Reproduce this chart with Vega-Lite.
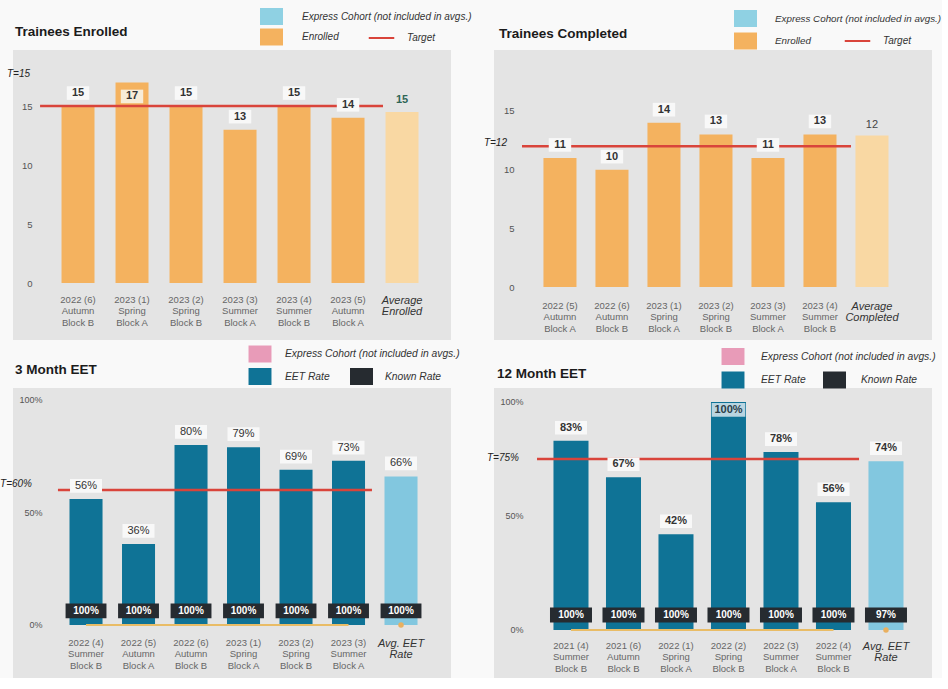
{
  "$schema": "https://vega.github.io/schema/vega-lite/v6.json",
  "padding": {"left": 0, "top": 8, "right": 0, "bottom": 0},
  "background": "#f9f9f9",
  "bounds": "flush",
  "columns": 2,
  "spacing": {"row": 48, "column": 43},
  "resolve": {
    "scale": {"color": "independent", "fill": "independent", "stroke": "independent", "x": "independent", "y": "independent"},
    "legend": {"color": "independent", "fill": "independent", "stroke": "independent"}
  },
  "config": {
    "font": "Liberation Sans",
    "view": {"stroke": null, "fill": "#e4e4e4"},
    "axis": {"domain": false, "ticks": false, "grid": false, "labelFont": "Liberation Sans"},
    "legend": {"labelFont": "Liberation Sans", "labelFontStyle": "italic", "labelFontSize": 10, "labelColor": "#333333", "padding": 0, "labelLimit": 400, "symbolOpacity": 1},
    "title": {"font": "Liberation Sans"}
  },
  "concat": [
    {
      "width": 438, "height": 290,
      "title": {"text": "Trainees Enrolled", "anchor": "start", "frame": "group", "baseline": "middle", "offset": -37, "dx": 2, "fontSize": 13.5, "fontWeight": "bold", "color": "#1b1b1b"},
      "data": {"values": [
        {"cohort": "2022 (6)|Autumn|Block B", "series": "Enrolled", "value": 15, "label": "15", "type": "cohort"},
        {"cohort": "2023 (1)|Spring|Block A", "series": "Enrolled", "value": 17, "label": "17", "type": "cohort"},
        {"cohort": "2023 (2)|Spring|Block B", "series": "Enrolled", "value": 15, "label": "15", "type": "cohort"},
        {"cohort": "2023 (3)|Summer|Block A", "series": "Enrolled", "value": 13, "label": "13", "type": "cohort"},
        {"cohort": "2023 (4)|Summer|Block B", "series": "Enrolled", "value": 15, "label": "15", "type": "cohort"},
        {"cohort": "2023 (5)|Autumn|Block A", "series": "Enrolled", "value": 14, "label": "14", "type": "cohort"},
        {"cohort": "Average|Enrolled", "series": "Average", "value": 14.5, "label": "15", "type": "avg"}
      ]},
      "layer": [
        {
          "transform": [{"filter": "datum.type == 'cohort'"}],
          "mark": {"type": "bar"},
          "encoding": {
            "x": {"field": "cohort", "type": "nominal", "scale": {"paddingInner": 0.389, "paddingOuter": 0.75, "align": 0.599},
              "axis": {"title": null, "offset": -57, "labelPadding": 11, "labelAngle": 0, "labelExpr": "split(datum.value, '|')", "labelLineHeight": 11.5,
                "labelFontSize": {"condition": {"test": "indexof(datum.value, 'Av') == 0", "value": 11}, "value": 9.5},
                "labelFontStyle": {"condition": {"test": "indexof(datum.value, 'Av') == 0", "value": "italic"}, "value": "normal"},
                "labelColor": {"condition": {"test": "indexof(datum.value, 'Av') == 0", "value": "#333333"}, "value": "#666666"}}},
            "y": {"field": "value", "type": "quantitative", "scale": {"domain": [-4.83, 19.75], "nice": false, "zero": false},
              "axis": {"title": null, "values": [0, 5, 10, 15], "offset": -19, "labelPadding": 0, "labelFontSize": 9.5, "labelColor": "#555555"}},
            "y2": {"datum": 0},
            "color": {"field": "series", "type": "nominal",
              "scale": {"domain": ["Express Cohort (not included in avgs.)", "Enrolled"], "range": ["#8fd1e3", "#f4b25f"]},
              "legend": {"orient": "none", "legendX": 250, "legendY": -42, "title": null, "symbolType": "M-1.35,-1H1.35V1H-1.35Z", "symbolSize": 289, "symbolStrokeWidth": 0, "rowPadding": 3.5, "labelOffset": 22}}
          }
        },
        {
          "transform": [{"filter": "datum.type == 'avg'"}],
          "mark": {"type": "bar", "color": "#f9d8a3"},
          "encoding": {"x": {"field": "cohort", "type": "nominal"}, "y": {"field": "value", "type": "quantitative"}, "y2": {"datum": 0}}
        },
        {
          "data": {"values": [{"from": "2022 (6)|Autumn|Block B", "to": "2023 (5)|Autumn|Block A", "target": 15}]},
          "mark": {"type": "rule", "strokeWidth": 2.5},
          "encoding": {
            "x": {"field": "from", "type": "nominal", "bandPosition": -0.65},
            "x2": {"field": "to", "bandPosition": 1.56},
            "y": {"field": "target", "type": "quantitative"},
            "stroke": {"datum": "Target", "type": "nominal", "scale": {"domain": ["Target"], "range": ["#d9443b"]},
              "legend": {"orient": "none", "legendX": 359, "legendY": -21.5, "title": null, "symbolType": "M-1.5,0H1.5", "symbolSize": 289, "symbolStrokeWidth": 2, "labelOffset": 16}}
          }
        },
        {
          "transform": [{"filter": "datum.type == 'cohort' && datum.value < 16"}],
          "mark": {"type": "point", "shape": "M-1.4,-0.85H1.4V0.85H-1.4Z", "size": 256, "filled": true, "color": "#f8f8f8", "opacity": 1, "yOffset": -13},
          "encoding": {"x": {"field": "cohort", "type": "nominal"}, "y": {"field": "value", "type": "quantitative"}}
        },
        {
          "transform": [{"filter": "datum.type == 'cohort' && datum.value < 16"}],
          "mark": {"type": "text", "dy": -13, "fontSize": 11, "fontWeight": "bold", "color": "#333333"},
          "encoding": {"x": {"field": "cohort", "type": "nominal"}, "y": {"field": "value", "type": "quantitative"}, "text": {"field": "label"}}
        },
        {
          "transform": [{"filter": "datum.type == 'cohort' && datum.value >= 16"}],
          "mark": {"type": "point", "shape": "M-1.4,-0.85H1.4V0.85H-1.4Z", "size": 256, "filled": true, "color": "#f7ecd8", "opacity": 1, "yOffset": 14},
          "encoding": {"x": {"field": "cohort", "type": "nominal"}, "y": {"field": "value", "type": "quantitative"}}
        },
        {
          "transform": [{"filter": "datum.type == 'cohort' && datum.value >= 16"}],
          "mark": {"type": "text", "dy": 14, "fontSize": 11, "fontWeight": "bold", "color": "#333333"},
          "encoding": {"x": {"field": "cohort", "type": "nominal"}, "y": {"field": "value", "type": "quantitative"}, "text": {"field": "label"}}
        },
        {
          "transform": [{"filter": "datum.type == 'avg'"}],
          "mark": {"type": "text", "dy": -12, "fontSize": 11, "fontWeight": "bold", "color": "#2f6656"},
          "encoding": {"x": {"field": "cohort", "type": "nominal"}, "y": {"field": "value", "type": "quantitative"}, "text": {"field": "label"}}
        },
        {
          "data": {"values": [{"from": "2022 (6)|Autumn|Block B", "target": 15}]},
          "mark": {"type": "text", "align": "right", "dx": -31.5, "dy": -32, "fontSize": 10, "fontStyle": "italic", "color": "#222222"},
          "encoding": {"x": {"field": "from", "type": "nominal", "bandPosition": 0}, "y": {"field": "target", "type": "quantitative"}, "text": {"value": "T=15"}}
        }
      ]
    },
    {
      "width": 438, "height": 290,
      "title": {"text": "Trainees Completed", "anchor": "start", "frame": "group", "baseline": "middle", "offset": -37, "dx": 5, "fontSize": 13.5, "fontWeight": "bold", "color": "#1b1b1b"},
      "data": {"values": [
        {"cohort": "2022 (5)|Autumn|Block A", "series": "Enrolled", "value": 11, "label": "11", "type": "cohort"},
        {"cohort": "2022 (6)|Autumn|Block B", "series": "Enrolled", "value": 10, "label": "10", "type": "cohort"},
        {"cohort": "2023 (1)|Spring|Block A", "series": "Enrolled", "value": 14, "label": "14", "type": "cohort"},
        {"cohort": "2023 (2)|Spring|Block B", "series": "Enrolled", "value": 13, "label": "13", "type": "cohort"},
        {"cohort": "2023 (3)|Summer|Block A", "series": "Enrolled", "value": 11, "label": "11", "type": "cohort"},
        {"cohort": "2023 (4)|Summer|Block B", "series": "Enrolled", "value": 13, "label": "13", "type": "cohort"},
        {"cohort": "Average|Completed", "series": "Average", "value": 12.9, "label": "12", "type": "avg"}
      ]},
      "layer": [
        {
          "transform": [{"filter": "datum.type == 'cohort'"}],
          "mark": {"type": "bar"},
          "encoding": {
            "x": {"field": "cohort", "type": "nominal", "scale": {"paddingInner": 0.365, "paddingOuter": 0.894, "align": 0.532},
              "axis": {"title": null, "offset": -53, "labelPadding": 13, "labelAngle": 0, "labelExpr": "split(datum.value, '|')", "labelLineHeight": 11.5,
                "labelFontSize": {"condition": {"test": "indexof(datum.value, 'Av') == 0", "value": 11}, "value": 9.5},
                "labelFontStyle": {"condition": {"test": "indexof(datum.value, 'Av') == 0", "value": "italic"}, "value": "normal"},
                "labelColor": {"condition": {"test": "indexof(datum.value, 'Av') == 0", "value": "#333333"}, "value": "#666666"}}},
            "y": {"field": "value", "type": "quantitative", "scale": {"domain": [-4.51, 20.19], "nice": false, "zero": false},
              "axis": {"title": null, "values": [0, 5, 10, 15], "offset": -20, "labelPadding": 0, "labelFontSize": 9.5, "labelColor": "#555555"}},
            "y2": {"datum": 0},
            "color": {"field": "series", "type": "nominal",
              "scale": {"domain": ["Express Cohort (not included in avgs.)", "Enrolled"], "range": ["#8fd1e3", "#f4b25f"]},
              "legend": {"orient": "none", "legendX": 243, "legendY": -40, "title": null, "symbolType": "M-1.35,-1H1.35V1H-1.35Z", "symbolSize": 289, "symbolStrokeWidth": 0, "rowPadding": 5.5, "labelOffset": 21, "labelFontSize": 9.8}}
          }
        },
        {
          "transform": [{"filter": "datum.type == 'avg'"}],
          "mark": {"type": "bar", "color": "#f9d8a3"},
          "encoding": {"x": {"field": "cohort", "type": "nominal"}, "y": {"field": "value", "type": "quantitative"}, "y2": {"datum": 0}}
        },
        {
          "data": {"values": [{"from": "2022 (5)|Autumn|Block A", "to": "2023 (4)|Summer|Block B", "target": 12}]},
          "mark": {"type": "rule", "strokeWidth": 2.5},
          "encoding": {
            "x": {"field": "from", "type": "nominal", "bandPosition": -0.65},
            "x2": {"field": "to", "bandPosition": 1.44},
            "y": {"field": "target", "type": "quantitative"},
            "stroke": {"datum": "Target", "type": "nominal", "scale": {"domain": ["Target"], "range": ["#d9443b"]},
              "legend": {"orient": "none", "legendX": 354, "legendY": -18.5, "title": null, "symbolType": "M-1.5,0H1.5", "symbolSize": 289, "symbolStrokeWidth": 2, "labelOffset": 16}}
          }
        },
        {
          "transform": [{"filter": "datum.type == 'cohort'"}],
          "mark": {"type": "point", "shape": "M-1.4,-0.85H1.4V0.85H-1.4Z", "size": 256, "filled": true, "color": "#f8f8f8", "opacity": 1, "yOffset": -13},
          "encoding": {"x": {"field": "cohort", "type": "nominal"}, "y": {"field": "value", "type": "quantitative"}}
        },
        {
          "transform": [{"filter": "datum.type == 'cohort'"}],
          "mark": {"type": "text", "dy": -13, "fontSize": 11, "fontWeight": "bold", "color": "#333333"},
          "encoding": {"x": {"field": "cohort", "type": "nominal"}, "y": {"field": "value", "type": "quantitative"}, "text": {"field": "label"}}
        },
        {
          "transform": [{"filter": "datum.type == 'avg'"}],
          "mark": {"type": "text", "dy": -11, "fontSize": 11, "color": "#444444"},
          "encoding": {"x": {"field": "cohort", "type": "nominal"}, "y": {"field": "value", "type": "quantitative"}, "text": {"field": "label"}}
        },
        {
          "data": {"values": [{"from": "2022 (5)|Autumn|Block A", "target": 12}]},
          "mark": {"type": "text", "align": "right", "dx": -36.5, "dy": -3, "fontSize": 10, "fontStyle": "italic", "color": "#222222"},
          "encoding": {"x": {"field": "from", "type": "nominal", "bandPosition": 0}, "y": {"field": "target", "type": "quantitative"}, "text": {"value": "T=12"}}
        }
      ]
    },
    {
      "width": 438, "height": 290,
      "title": {"text": "3 Month EET", "anchor": "start", "frame": "group", "baseline": "middle", "offset": -37.5, "dx": 2, "fontSize": 13.5, "fontWeight": "bold", "color": "#1b1b1b"},
      "data": {"values": [
        {"cohort": "2022 (4)|Summer|Block B", "series": "EET Rate", "value": 56, "label": "56%", "known": "100%", "type": "cohort"},
        {"cohort": "2022 (5)|Autumn|Block A", "series": "EET Rate", "value": 36, "label": "36%", "known": "100%", "type": "cohort"},
        {"cohort": "2022 (6)|Autumn|Block B", "series": "EET Rate", "value": 80, "label": "80%", "known": "100%", "type": "cohort"},
        {"cohort": "2023 (1)|Spring|Block A", "series": "EET Rate", "value": 79, "label": "79%", "known": "100%", "type": "cohort"},
        {"cohort": "2023 (2)|Spring|Block B", "series": "EET Rate", "value": 69, "label": "69%", "known": "100%", "type": "cohort"},
        {"cohort": "2023 (3)|Summer|Block A", "series": "EET Rate", "value": 73, "label": "73%", "known": "100%", "type": "cohort"},
        {"cohort": "Avg. EET|Rate", "series": "Average", "value": 66, "label": "66%", "known": "100%", "type": "avg"}
      ]},
      "layer": [
        {
          "transform": [{"filter": "datum.type == 'cohort'"}],
          "mark": {"type": "bar"},
          "encoding": {
            "x": {"field": "cohort", "type": "nominal", "scale": {"paddingInner": 0.371, "paddingOuter": 0.857, "align": 0.628},
              "axis": {"title": null, "offset": -53, "labelPadding": 12, "labelAngle": 0, "labelExpr": "split(datum.value, '|')", "labelLineHeight": 11.5,
                "labelFontSize": {"condition": {"test": "indexof(datum.value, 'Av') == 0", "value": 11}, "value": 9.5},
                "labelFontStyle": {"condition": {"test": "indexof(datum.value, 'Av') == 0", "value": "italic"}, "value": "normal"},
                "labelColor": {"condition": {"test": "indexof(datum.value, 'Av') == 0", "value": "#333333"}, "value": "#666666"}}},
            "y": {"field": "value", "type": "quantitative", "scale": {"domain": [-23.6, 105.3], "nice": false, "zero": false},
              "axis": {"title": null, "values": [0, 50, 100], "labelExpr": "datum.value + '%'", "offset": -29, "labelPadding": 0, "labelFontSize": 9, "labelColor": "#555555"}},
            "y2": {"datum": 0},
            "color": {"field": "series", "type": "nominal",
              "scale": {"domain": ["Express Cohort (not included in avgs.)", "EET Rate"], "range": ["#e89bb8", "#0f7396"]},
              "legend": {"orient": "none", "legendX": 238.5, "legendY": -42.5, "title": null, "symbolType": "M-1.35,-1H1.35V1H-1.35Z", "symbolSize": 289, "symbolStrokeWidth": 0, "rowPadding": 5.5, "labelOffset": 16.5, "labelFontSize": 10.3}}
          }
        },
        {
          "transform": [{"filter": "datum.type == 'avg'"}],
          "mark": {"type": "bar", "color": "#82c7df"},
          "encoding": {"x": {"field": "cohort", "type": "nominal"}, "y": {"field": "value", "type": "quantitative"}, "y2": {"datum": 0}}
        },
        {
          "data": {"values": [{"from": "2022 (4)|Summer|Block B", "to": "2023 (3)|Summer|Block A", "target": 60}]},
          "mark": {"type": "rule", "strokeWidth": 2.5},
          "encoding": {
            "x": {"field": "from", "type": "nominal", "bandPosition": -0.35},
            "x2": {"field": "to", "bandPosition": 1.21},
            "y": {"field": "target", "type": "quantitative"},
            "stroke": {"datum": "Target", "type": "nominal", "scale": {"domain": ["Target"], "range": ["#d9443b"]}, "legend": null}
          }
        },
        {
          "transform": [{"filter": "datum.type == 'cohort'"}],
          "mark": {"type": "line", "color": "#e9bc66", "strokeWidth": 2},
          "encoding": {"x": {"field": "cohort", "type": "nominal"}, "y": {"datum": 0}}
        },
        {
          "transform": [{"filter": "datum.type == 'avg'"}],
          "mark": {"type": "point", "filled": true, "color": "#e9b060", "opacity": 1, "size": 30},
          "encoding": {"x": {"field": "cohort", "type": "nominal"}, "y": {"datum": 0}}
        },
        {
          "mark": {"type": "point", "shape": "M-1.4,-0.5H1.4V0.5H-1.4Z", "size": 853, "filled": true, "opacity": 1, "yOffset": -14},
          "encoding": {"x": {"field": "cohort", "type": "nominal"}, "y": {"datum": 0},
            "fill": {"datum": "Known Rate", "type": "nominal", "scale": {"domain": ["Known Rate"], "range": ["#262b30"]},
              "legend": {"orient": "none", "legendX": 340, "legendY": -20, "title": null, "symbolType": "M-1.35,-1H1.35V1H-1.35Z", "symbolSize": 289, "symbolStrokeWidth": 0, "labelOffset": 15, "labelFontSize": 10.3}}}
        },
        {
          "mark": {"type": "text", "dy": -14, "fontSize": 10, "fontWeight": "bold", "color": "#ffffff"},
          "encoding": {"x": {"field": "cohort", "type": "nominal"}, "y": {"datum": 0}, "text": {"field": "known"}}
        },
        {
          "mark": {"type": "point", "shape": "M-2,-0.85H2V0.85H-2Z", "size": 256, "filled": true, "color": "#f8f8f8", "opacity": 1, "yOffset": -13},
          "encoding": {"x": {"field": "cohort", "type": "nominal"}, "y": {"field": "value", "type": "quantitative"}}
        },
        {
          "mark": {"type": "text", "dy": -13, "fontSize": 11, "color": "#333333"},
          "encoding": {"x": {"field": "cohort", "type": "nominal"}, "y": {"field": "value", "type": "quantitative"}, "text": {"field": "label"}}
        },
        {
          "data": {"values": [{"from": "2022 (4)|Summer|Block B", "target": 60}]},
          "mark": {"type": "text", "align": "right", "dx": -37.5, "dy": -6, "fontSize": 10, "fontStyle": "italic", "color": "#222222"},
          "encoding": {"x": {"field": "from", "type": "nominal", "bandPosition": 0}, "y": {"field": "target", "type": "quantitative"}, "text": {"value": "T=60%"}}
        }
      ]
    },
    {
      "width": 438, "height": 290,
      "title": {"text": "12 Month EET", "anchor": "start", "frame": "group", "baseline": "middle", "offset": -39, "dx": 3, "fontSize": 13.5, "fontWeight": "bold", "color": "#1b1b1b"},
      "data": {"values": [
        {"cohort": "2021 (4)|Summer|Block B", "series": "EET Rate", "value": 83, "label": "83%", "known": "100%", "type": "cohort"},
        {"cohort": "2021 (6)|Autumn|Block B", "series": "EET Rate", "value": 67, "label": "67%", "known": "100%", "type": "cohort"},
        {"cohort": "2022 (1)|Spring|Block A", "series": "EET Rate", "value": 42, "label": "42%", "known": "100%", "type": "cohort"},
        {"cohort": "2022 (2)|Spring|Block B", "series": "EET Rate", "value": 100, "label": "100%", "known": "100%", "type": "cohort"},
        {"cohort": "2022 (3)|Summer|Block A", "series": "EET Rate", "value": 78, "label": "78%", "known": "100%", "type": "cohort"},
        {"cohort": "2022 (4)|Summer|Block B", "series": "EET Rate", "value": 56, "label": "56%", "known": "100%", "type": "cohort"},
        {"cohort": "Avg. EET|Rate", "series": "Average", "value": 74, "label": "74%", "known": "97%", "type": "avg"}
      ]},
      "layer": [
        {
          "transform": [{"filter": "datum.type == 'cohort'"}],
          "mark": {"type": "bar"},
          "encoding": {
            "x": {"field": "cohort", "type": "nominal", "scale": {"paddingInner": 0.333, "paddingOuter": 0.838, "align": 0.676},
              "axis": {"title": null, "offset": -48, "labelPadding": 10, "labelAngle": 0, "labelExpr": "split(datum.value, '|')", "labelLineHeight": 11.5,
                "labelFontSize": {"condition": {"test": "indexof(datum.value, 'Av') == 0", "value": 11}, "value": 9.5},
                "labelFontStyle": {"condition": {"test": "indexof(datum.value, 'Av') == 0", "value": "italic"}, "value": "normal"},
                "labelColor": {"condition": {"test": "indexof(datum.value, 'Av') == 0", "value": "#333333"}, "value": "#666666"}}},
            "y": {"field": "value", "type": "quantitative", "scale": {"domain": [-21.05, 106.1], "nice": false, "zero": false},
              "axis": {"title": null, "values": [0, 50, 100], "labelExpr": "datum.value + '%'", "offset": -29, "labelPadding": 0, "labelFontSize": 9, "labelColor": "#555555"}},
            "y2": {"datum": 0},
            "color": {"field": "series", "type": "nominal",
              "scale": {"domain": ["Express Cohort (not included in avgs.)", "EET Rate"], "range": ["#e89bb8", "#0f7396"]},
              "legend": {"orient": "none", "legendX": 230.5, "legendY": -40, "title": null, "symbolType": "M-1.35,-1H1.35V1H-1.35Z", "symbolSize": 289, "symbolStrokeWidth": 0, "rowPadding": 6.5, "labelOffset": 19.5, "labelFontSize": 10.3}}
          }
        },
        {
          "transform": [{"filter": "datum.type == 'avg'"}],
          "mark": {"type": "bar", "color": "#82c7df"},
          "encoding": {"x": {"field": "cohort", "type": "nominal"}, "y": {"field": "value", "type": "quantitative"}, "y2": {"datum": 0}}
        },
        {
          "data": {"values": [{"from": "2021 (4)|Summer|Block B", "to": "2022 (4)|Summer|Block B", "target": 75}]},
          "mark": {"type": "rule", "strokeWidth": 2.5},
          "encoding": {
            "x": {"field": "from", "type": "nominal", "bandPosition": -0.47},
            "x2": {"field": "to", "bandPosition": 1.23},
            "y": {"field": "target", "type": "quantitative"},
            "stroke": {"datum": "Target", "type": "nominal", "scale": {"domain": ["Target"], "range": ["#d9443b"]}, "legend": null}
          }
        },
        {
          "transform": [{"filter": "datum.type == 'cohort'"}],
          "mark": {"type": "line", "color": "#e9bc66", "strokeWidth": 2},
          "encoding": {"x": {"field": "cohort", "type": "nominal"}, "y": {"datum": 0}}
        },
        {
          "transform": [{"filter": "datum.type == 'avg'"}],
          "mark": {"type": "point", "filled": true, "color": "#e9b060", "opacity": 1, "size": 30},
          "encoding": {"x": {"field": "cohort", "type": "nominal"}, "y": {"datum": 0}}
        },
        {
          "mark": {"type": "point", "shape": "M-1.4,-0.5H1.4V0.5H-1.4Z", "size": 900, "filled": true, "opacity": 1, "yOffset": -15},
          "encoding": {"x": {"field": "cohort", "type": "nominal"}, "y": {"datum": 0},
            "fill": {"datum": "Known Rate", "type": "nominal", "scale": {"domain": ["Known Rate"], "range": ["#262b30"]},
              "legend": {"orient": "none", "legendX": 332, "legendY": -16.5, "title": null, "symbolType": "M-1.35,-1H1.35V1H-1.35Z", "symbolSize": 289, "symbolStrokeWidth": 0, "labelOffset": 18, "labelFontSize": 10.3}}}
        },
        {
          "mark": {"type": "text", "dy": -15, "fontSize": 10, "fontWeight": "bold", "color": "#ffffff"},
          "encoding": {"x": {"field": "cohort", "type": "nominal"}, "y": {"datum": 0}, "text": {"field": "known"}}
        },
        {
          "transform": [{"filter": "datum.value < 95"}],
          "mark": {"type": "point", "shape": "M-2,-0.85H2V0.85H-2Z", "size": 256, "filled": true, "color": "#f8f8f8", "opacity": 1, "yOffset": -13},
          "encoding": {"x": {"field": "cohort", "type": "nominal"}, "y": {"field": "value", "type": "quantitative"}}
        },
        {
          "transform": [{"filter": "datum.value < 95"}],
          "mark": {"type": "text", "dy": -13, "fontSize": 11, "fontWeight": "bold", "color": "#333333"},
          "encoding": {"x": {"field": "cohort", "type": "nominal"}, "y": {"field": "value", "type": "quantitative"}, "text": {"field": "label"}}
        },
        {
          "transform": [{"filter": "datum.value >= 95"}],
          "mark": {"type": "point", "shape": "M-2.1,-0.85H2.1V0.85H-2.1Z", "size": 256, "filled": true, "color": "#b9d5e1", "opacity": 1, "yOffset": 8},
          "encoding": {"x": {"field": "cohort", "type": "nominal"}, "y": {"field": "value", "type": "quantitative"}}
        },
        {
          "transform": [{"filter": "datum.value >= 95"}],
          "mark": {"type": "text", "dy": 8, "fontSize": 11, "fontWeight": "bold", "color": "#2a3d48"},
          "encoding": {"x": {"field": "cohort", "type": "nominal"}, "y": {"field": "value", "type": "quantitative"}, "text": {"field": "label"}}
        },
        {
          "data": {"values": [{"from": "2021 (4)|Summer|Block B", "target": 75}]},
          "mark": {"type": "text", "align": "right", "dx": -34.5, "dy": -1, "fontSize": 10, "fontStyle": "italic", "color": "#222222"},
          "encoding": {"x": {"field": "from", "type": "nominal", "bandPosition": 0}, "y": {"field": "target", "type": "quantitative"}, "text": {"value": "T=75%"}}
        }
      ]
    }
  ]
}
